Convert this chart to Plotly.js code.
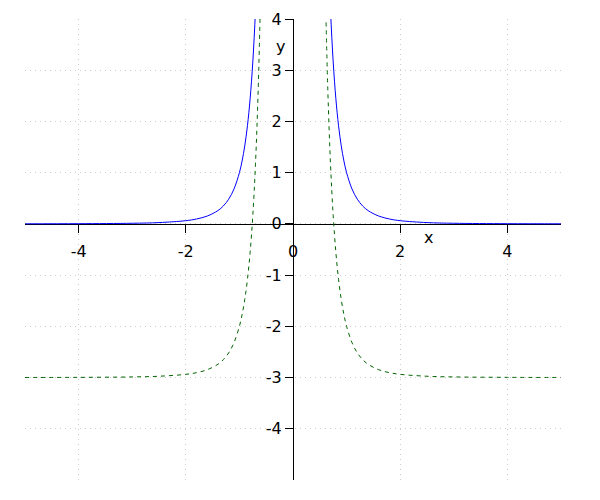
<!DOCTYPE html>
<html>
<head>
<meta charset="utf-8">
<script src="https://cdn.plot.ly/plotly-3.0.1.min.js"></script>
<style>html,body{margin:0;padding:0;background:#fff;}#chart{width:600px;height:500px;}</style>
</head>
<body>
<div id="chart"></div>
<script>
// x samples (negative branch, gap, positive branch)
const xValues = [-5, -4, -3, -2.5, -2, -1.8, -1.6, -1.4, -1.3, -1.2, -1.1, -1.0, -0.95, -0.9, -0.85, -0.8, -0.75, -0.7, -0.65, -0.6,
                 null,
                 0.6, 0.65, 0.7, 0.75, 0.8, 0.85, 0.9, 0.95, 1.0, 1.1, 1.2, 1.3, 1.4, 1.6, 1.8, 2, 2.5, 3, 4, 5];
// solid blue curve values
const blueValues = [0.0016, 0.0039, 0.0123, 0.0256, 0.0625, 0.0953, 0.153, 0.260, 0.350, 0.482, 0.683, 1.0, 1.228, 1.524, 1.916, 2.441, 3.160, 4.165, 5.60, 7.716,
                    null,
                    7.716, 5.60, 4.165, 3.160, 2.441, 1.916, 1.524, 1.228, 1.0, 0.683, 0.482, 0.350, 0.260, 0.153, 0.0953, 0.0625, 0.0256, 0.0123, 0.0039, 0.0016];
// dashed green curve values
const greenValues = [-2.9984, -2.9961, -2.9877, -2.9744, -2.9375, -2.9047, -2.847, -2.740, -2.650, -2.518, -2.317, -2.0, -1.772, -1.476, -1.084, -0.559, 0.160, 1.165, 2.60, 4.716,
                     null,
                     4.716, 2.60, 1.165, 0.160, -0.559, -1.084, -1.476, -1.772, -2.0, -2.317, -2.518, -2.650, -2.740, -2.847, -2.9047, -2.9375, -2.9744, -2.9877, -2.9961, -2.9984];
const xTicks = [-4, -2, 0, 2, 4];
const yTicks = [-4, -3, -2, -1, 0, 1, 2, 3, 4];

const traces = [
  {x: xValues, y: blueValues, type: 'scatter', mode: 'lines', line: {color: '#0000ff', width: 1, shape: 'spline'}, connectgaps: false, hoverinfo: 'skip'},
  {x: xValues, y: greenValues, type: 'scatter', mode: 'lines', line: {color: '#006400', width: 1, dash: '4px,4px', shape: 'spline'}, connectgaps: false, hoverinfo: 'skip'}
];

const font = {family: 'DejaVu Sans, sans-serif', size: 16, color: '#000'};
const layout = {
  width: 600, height: 500,
  margin: {l: 25, r: 39, t: 19, b: 20, pad: 0},
  paper_bgcolor: '#fff', plot_bgcolor: '#fff',
  showlegend: false,
  font: font,
  xaxis: {
    range: [-5, 5], tickvals: xTicks, ticktext: xTicks.map(String),
    showgrid: true, gridcolor: '#cccccc', griddash: '1px,4px', gridwidth: 1,
    zeroline: false, showline: true, linecolor: '#000', linewidth: 1,
    ticks: 'outside', ticklen: 8, tickcolor: '#000', tickwidth: 1,
    ticklabelstandoff: 5, layer: 'below traces',
    anchor: 'free', position: 5/9, tickfont: font, fixedrange: true
  },
  yaxis: {
    range: [-5, 4], tickvals: yTicks, ticktext: yTicks.map(String),
    showgrid: true, gridcolor: '#cccccc', griddash: '1px,4px', gridwidth: 1,
    zeroline: false, showline: true, linecolor: '#000', linewidth: 1,
    ticks: 'outside', ticklen: 8, tickcolor: '#000', tickwidth: 1,
    layer: 'below traces',
    anchor: 'free', position: 0.5, tickfont: font, fixedrange: true
  },
  annotations: [
    {text: 'x', x: 2.52, y: -0.27, xref: 'x', yref: 'y', showarrow: false, font: font},
    {text: 'y', x: -0.24, y: 3.47, xref: 'x', yref: 'y', showarrow: false, font: font}
  ]
};
Plotly.newPlot('chart', traces, layout, {staticPlot: true});
</script>
</body>
</html>
